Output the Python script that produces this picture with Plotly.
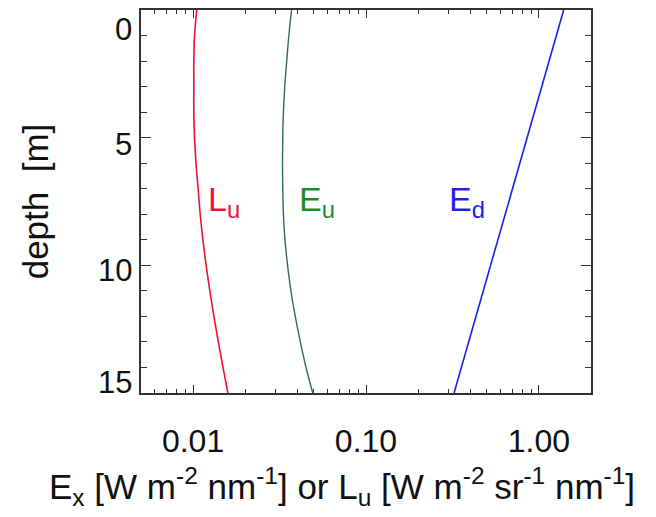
import math
import plotly.graph_objects as go

# Data
depth_lu = [0, 1, 2, 3, 4, 5, 6, 7, 8, 9, 10, 11, 12, 13, 14, 15]
lu_vals = [0.0105, 0.0102, 0.0101, 0.0101, 0.0101, 0.0102, 0.0104, 0.0107,
           0.0110, 0.0114, 0.0119, 0.0125, 0.0132, 0.0140, 0.0149, 0.0159]

depth_eu = [0, 1, 2, 3, 4, 5, 6, 7, 8, 9, 10, 11, 12, 13, 14, 15]
eu_vals = [0.0371, 0.0358, 0.0348, 0.0339, 0.0333, 0.0330, 0.0329, 0.0330,
           0.0333, 0.0340, 0.0352, 0.0368, 0.0390, 0.0417, 0.0450, 0.0492]

depth_ed = [0, 3, 6, 9, 12, 15]
ed_vals = [1.39, 1.04, 0.774, 0.578, 0.432, 0.323]

x_tickvals = [0.01, 0.1, 1.0]
x_ticktext = ["0.01", "0.10", "1.00"]
x_minor = [0.005, 0.006, 0.007, 0.008, 0.009,
           0.02, 0.03, 0.04, 0.05, 0.06, 0.07, 0.08, 0.09,
           0.2, 0.3, 0.4, 0.5, 0.6, 0.7, 0.8, 0.9, 2.0]
y_tickvals = [0, 5, 10, 15]
y_ticktext = ["0", "5", "10", "15"]
y_label_shift = [-19, -7, -5, 11]

series_labels = ["L<sub>u</sub>", "E<sub>u</sub>", "E<sub>d</sub>"]
label_x = [0.01185, 0.0398, 0.293]
label_y = [7.5, 7.5, 7.5]

x_title = ("E<sub>x</sub> [W m<sup>-2</sup> nm<sup>-1</sup>] or "
           "L<sub>u</sub> [W m<sup>-2</sup> sr<sup>-1</sup> nm<sup>-1</sup>]")
y_title = "depth  [m]"

RED = "#f0103c"
GREEN_LINE = "#2f7048"
GREEN_TXT = "#1f8a2a"
BLUE = "#1f1ff0"
FONT = "Liberation Sans, Arial, Helvetica, sans-serif"

fig = go.Figure()
fig.add_trace(go.Scatter(x=lu_vals, y=depth_lu, mode="lines",
                         line=dict(color=RED, width=1.6, shape="spline"), showlegend=False))
fig.add_trace(go.Scatter(x=eu_vals, y=depth_eu, mode="lines",
                         line=dict(color=GREEN_LINE, width=1.4, shape="spline"), showlegend=False))
fig.add_trace(go.Scatter(x=ed_vals, y=depth_ed, mode="lines",
                         line=dict(color=BLUE, width=1.6), showlegend=False))

label_colors = [RED, GREEN_TXT, BLUE]
for txt, lx, ly, col in zip(series_labels, label_x, label_y, label_colors):
    fig.add_annotation(x=math.log10(lx), y=ly, xref="x", yref="y", text=txt, showarrow=False,
                       xanchor="left", yanchor="middle",
                       font=dict(family=FONT, size=34, color=col))

for v, t, s in zip(y_tickvals, y_ticktext, y_label_shift):
    fig.add_annotation(x=0, y=v, xref="paper", yref="y", text=t, showarrow=False,
                       xanchor="right", yanchor="middle", xshift=-7, yshift=s,
                       font=dict(family=FONT, size=31, color="#111111"))

# x-axis title, slightly left of the plot centre as in the reference
fig.add_annotation(x=0.447, y=0, xref="paper", yref="paper", text=x_title, showarrow=False,
                   xanchor="center", yanchor="top", yshift=-67,
                   font=dict(family=FONT, size=35, color="#111111"))

axis_common = dict(showgrid=False, zeroline=False, showline=True, linecolor="#333333",
                   linewidth=1.5, mirror="ticks", ticks="inside", tickcolor="#333333",
                   tickwidth=1.2)

fig.update_xaxes(type="log", range=[-2.30103, 0.30103],
                 tickvals=x_tickvals, ticktext=x_ticktext, ticklen=8,
                 ticklabelstandoff=19,
                 tickfont=dict(family=FONT, size=32, color="#111111"),
                 minor=dict(tickvals=x_minor, ticks="inside", ticklen=4,
                            tickcolor="#333333", tickwidth=1.0, showgrid=False),
                 **axis_common)

fig.update_yaxes(range=[15, 0], tickvals=y_tickvals, showticklabels=False, ticklen=10,
                 minor=dict(dtick=1, ticks="inside", ticklen=6, tickcolor="#333333",
                            tickwidth=1.0, showgrid=False),
                 title=dict(text=y_title, font=dict(family=FONT, size=35, color="#111111"),
                            standoff=80),
                 **axis_common)

fig.update_layout(width=656, height=517, autosize=False,
                  margin=dict(l=141, r=65, t=8, b=124),
                  paper_bgcolor="white", plot_bgcolor="white",
                  font=dict(family=FONT, color="#111111"))

fig.write_html("out.html")
